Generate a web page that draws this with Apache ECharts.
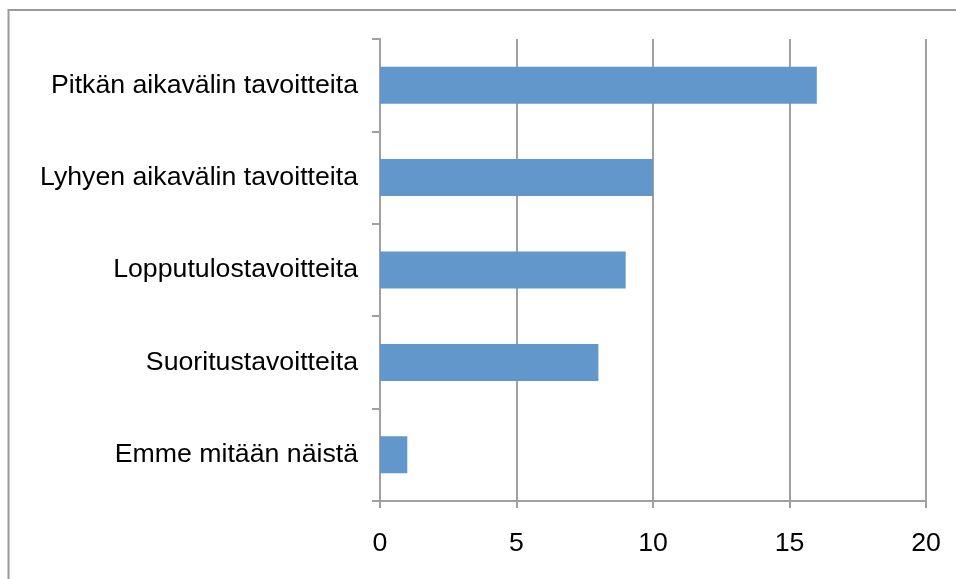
<!DOCTYPE html>
<html>
<head>
<meta charset="utf-8">
<script src="https://cdn.jsdelivr.net/npm/echarts@6/dist/echarts.min.js"></script>
<style>
  html, body { margin: 0; padding: 0; background: #fff; }
  #chart { width: 956px; height: 579px; }
</style>
</head>
<body>
<div id="chart"></div>
<script>
// Goal types, listed top to bottom
const categories = [
  'Pitkän aikavälin tavoitteita',
  'Lyhyen aikavälin tavoitteita',
  'Lopputulostavoitteita',
  'Suoritustavoitteita',
  'Emme mitään näistä'
];
// Number of answers per goal type
const counts = [16, 10, 9, 8, 1];

const axisGrey = '#a0a0a0';
const font = 'Liberation Sans, Arial, sans-serif';

const chart = echarts.init(document.getElementById('chart'), null, { renderer: 'canvas' });
chart.setOption({
  animation: false,
  backgroundColor: '#ffffff',
  graphic: [{
    type: 'rect',
    shape: { x: 8.5, y: 10, width: 960, height: 600 },
    style: { fill: 'none', stroke: '#9a9a9a', lineWidth: 2 },
    silent: true
  }],
  grid: { left: 380, right: 30, top: 39, bottom: 78, containLabel: false },
  xAxis: {
    type: 'value',
    min: 0, max: 20, interval: 5,
    axisLine: { show: true, lineStyle: { color: axisGrey, width: 2 } },
    axisTick: { show: true, length: 7, lineStyle: { color: axisGrey, width: 2 } },
    splitLine: { show: true, lineStyle: { color: axisGrey, width: 2 } },
    axisLabel: { color: '#000', fontFamily: font, fontSize: 26.7, margin: 29 }
  },
  yAxis: {
    type: 'category',
    data: categories,
    inverse: true,
    axisLine: { show: true, lineStyle: { color: axisGrey, width: 2 } },
    axisTick: { show: true, length: 8, alignWithLabel: false, lineStyle: { color: axisGrey, width: 2 } },
    splitLine: { show: false },
    axisLabel: { color: '#000', fontFamily: font, fontSize: 26.7, margin: 22 }
  },
  series: [{
    type: 'bar',
    data: counts,
    barWidth: '40%',
    itemStyle: { color: '#6197ca' }
  }]
});
</script>
</body>
</html>
